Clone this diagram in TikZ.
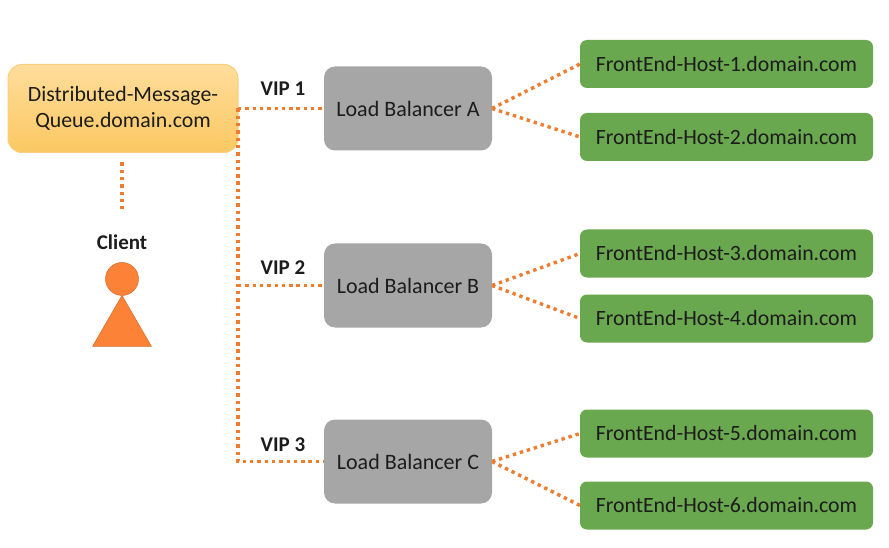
\documentclass[tikz,border=0pt]{standalone}
\usepackage{fontspec}
\setmainfont{Carlito}
\usepackage{tikz}
\usetikzlibrary{arrows.meta,positioning,calc}
\definecolor{dotorange}{HTML}{ED7D31}
\definecolor{personorange}{HTML}{FB8236}
\definecolor{hostgreen}{HTML}{6AA84F}
\definecolor{lbgrey}{HTML}{A6A6A6}
\definecolor{inkgrey}{HTML}{1C1C1C}
\definecolor{queuetop}{HTML}{FFDD9B}
\definecolor{queuebottom}{HTML}{FBC862}
\definecolor{queueedge}{HTML}{F7CF7E}

\begin{document}
\begin{tikzpicture}[
  x=1pt, y=-1pt,
  queuebox/.style={rectangle, draw=queueedge, line width=1pt, rounded corners=14pt,
    top color=queuetop, bottom color=queuebottom,
    minimum width=230pt, minimum height=88pt, align=center, outer sep=0pt,
    text=inkgrey, font=\fontsize{21.8}{26.5}\selectfont},
  lbbox/.style={rectangle, fill=lbgrey, rounded corners=11pt,
    minimum width=168pt, minimum height=84pt, align=center, outer sep=0pt,
    text=inkgrey, font=\fontsize{22}{26}\selectfont},
  hostbox/.style={rectangle, fill=hostgreen, rounded corners=7pt,
    minimum width=293pt, minimum height=48pt, align=center, outer sep=0pt,
    text=inkgrey, font=\fontsize{21.8}{26}\selectfont},
  link/.style={draw=dotorange, line width=3.4pt, dash pattern=on 3.4pt off 3.9pt},
  viplabel/.style={font=\bfseries\fontsize{21}{25}\selectfont, text=inkgrey},
]
  \useasboundingbox (0,0) rectangle (889,548);

  % front of the system
  \node[queuebox] (queue) at (123,108.5) {Distributed-Message-\\Queue.domain.com};

  % balancers
  \node[lbbox, right=86pt of queue] (lbA) {Load Balancer A};
  \node[lbbox, below=93pt of lbA] (lbB) {Load Balancer B};
  \node[lbbox, below=92pt of lbB] (lbC) {Load Balancer C};

  % hosts
  \node[hostbox, right=88pt of lbA, yshift=44.5pt] (host1) {FrontEnd-Host-1.domain.com};
  \node[hostbox, below=25pt of host1] (host2) {FrontEnd-Host-2.domain.com};
  \node[hostbox, right=88pt of lbB, yshift=32pt] (host3) {FrontEnd-Host-3.domain.com};
  \node[hostbox, below=17pt of host3] (host4) {FrontEnd-Host-4.domain.com};
  \node[hostbox, right=88pt of lbC, yshift=28pt] (host5) {FrontEnd-Host-5.domain.com};
  \node[hostbox, below=24pt of host5] (host6) {FrontEnd-Host-6.domain.com};

  % client
  \coordinate (clienttop) at ($(queue.south)+(-1,10)$);
  \coordinate (clientend) at ($(queue.south)+(-1,57)$);
  \node[viplabel, below=22pt of clientend] (client) {Client};
  \node[circle, draw=personorange!85!black, fill=personorange, line width=0.5pt,
    minimum size=33pt, inner sep=0pt, below=9pt of client, outer sep=0pt] (head) {};
  \draw[draw=personorange!85!black, fill=personorange, line width=0.5pt]
    (head.south) -- ++(29.5,51) -- ++(-59,0) -- cycle;
  \draw[link] (clienttop) -- (clientend);

  % links
  \draw[link] (queue.east) -- (lbA.west)
    node[viplabel, midway, above=8pt, xshift=2pt] (vip1) {VIP 1};
  \draw[link] (queue.east) |- (lbC.west)
    node[viplabel, pos=0.75, above=5pt, xshift=2pt] (vip3) {VIP 3};
  \draw[link] (queue.east |- lbB.west) -- (lbB.west)
    node[viplabel, midway, above=6pt, xshift=2pt] (vip2) {VIP 2};

  \draw[link] (lbA.east) -- (host1.west);
  \draw[link] (lbA.east) -- (host2.west);
  \draw[link] (lbB.east) -- (host3.west);
  \draw[link] (lbB.east) -- (host4.west);
  \draw[link] (lbC.east) -- (host5.west);
  \draw[link] (lbC.east) -- (host6.west);
\end{tikzpicture}
\end{document}
